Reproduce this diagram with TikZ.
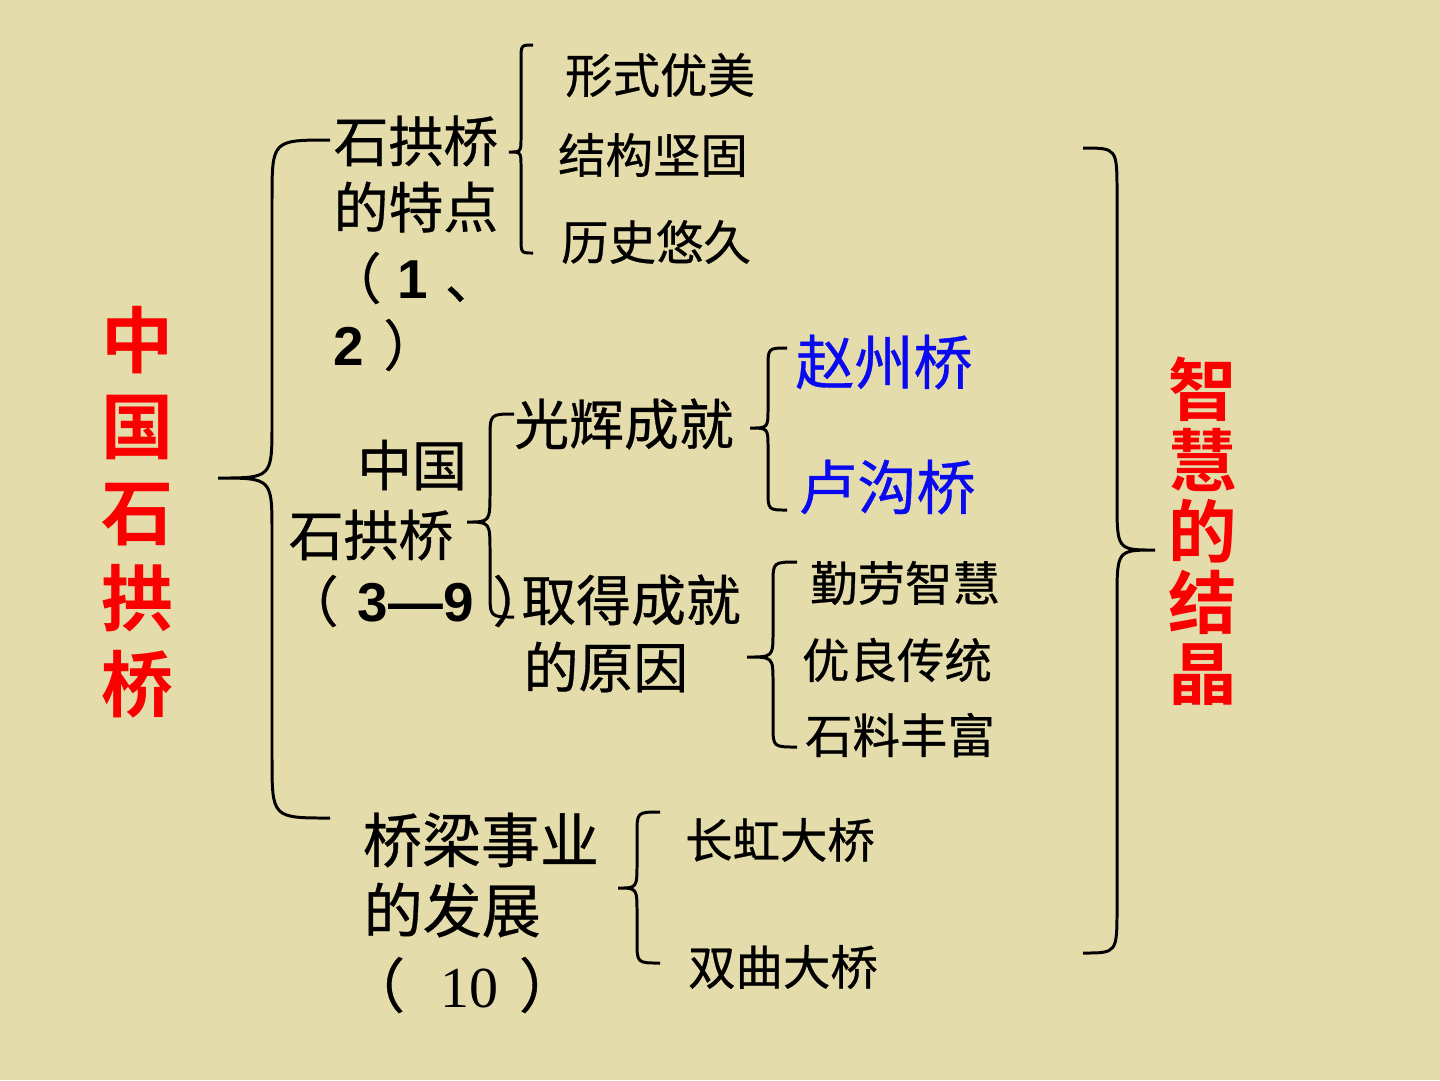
\documentclass[tikz,border=0pt]{standalone}
\usepackage{fontspec}
\setmainfont{Liberation Sans}
\newfontfamily\cjk{Noto Sans CJK SC}[FakeBold=0.6]
\newfontfamily\cjkb{Noto Sans CJK SC Bold}
\newfontfamily\tms{Liberation Serif}
\newfontfamily\arb{Liberation Sans Bold}
\definecolor{bgc}{RGB}{229,220,171}
\definecolor{redc}{RGB}{250,0,0}
\definecolor{bluec}{RGB}{10,10,240}
\newcommand\fs[2]{\fontsize{#1}{#2}\selectfont}
% brace: end-x, top-y, line-x, tip-x, tip-y, bottom-y, end radius, tip radius
\newcommand\mybrace[8]{%
  \draw[bracestyle] (#1,#2) .. controls (#3,#2) .. (#3,#2+#7) -- (#3,#5-#8)
    .. controls (#3,#5) .. (#4,#5) .. controls (#3,#5) .. (#3,#5+#8)
    -- (#3,#6-#7) .. controls (#3,#6) .. (#1,#6);}
\begin{document}
\begin{tikzpicture}[x=0.1mm,y=-0.1mm,
  bracestyle/.style={line width=0.85pt, black},
  txt/.style={inner sep=0pt, font=\cjk},
  big/.style={txt, font=\cjk\fs{15.6}{18}},
  small/.style={txt, font=\cjk\fs{13.5}{16}},
  bluet/.style={txt, font=\cjk\fs{16.8}{19}, text=bluec},
  vred/.style={txt, align=center, text=redc}]
\fill[bgc] (0,0) rectangle (1440,1080);
\useasboundingbox (0,0) rectangle (1440,1080);

% left title
\node[vred, font=\cjkb\fs{20.5}{24.5}] (title) at (138,512) {中\\国\\石\\拱\\桥};
% right title
\node[vred, font=\cjkb\fs{19.5}{20.2}] (result) at (1203,531) {智\\慧\\的\\结\\晶};

% section 1
\node[big, anchor=west] (s1a) at (333,141) {石拱桥};
\node[big, anchor=west] (s1b) at (333,207) {的特点};
\node[big, anchor=west] (s1c) at (326,278) {（\hspace{0.3em}{\arb 1}\hspace{0.3em}、};
\node[big, anchor=west] (s1d) at (333,345) {{\arb 2}\hspace{0.35em}）};
\node[small] (f1) at (660,75) {形式优美};
\node[small] (f2) at (653,155) {结构坚固};
\node[small] (f3) at (656,242) {历史悠久};

% section 2
\node[big] (s2a) at (412,465) {中国};
\node[big] (s2b) at (371,535) {石拱桥};
\node[big, anchor=west] (s2c) at (283,601) {（\hspace{0.35em}{\arb 3—9}\hspace{0.35em}）\hspace{-0.6em}};
\node[big] (g1) at (624,424) {光辉成就};
\node[big] (g2a) at (631,600) {取得成就};
\node[big, anchor=west] (g2b) at (523,667) {的原因};
\node[bluet] (zz) at (884,362) {赵州桥};
\node[bluet] (lg) at (887,487) {卢沟桥};
\node[small] (r1) at (905,583) {勤劳智慧};
\node[small] (r2) at (897,660) {优良传统};
\node[small] (r3) at (900,735) {石料丰富};

% section 3
\node[txt, font=\cjk\fs{16.8}{19}] (s3a) at (481,840) {桥梁事业};
\node[txt, font=\cjk\fs{16.8}{19}, anchor=west] (s3b) at (363,910) {的发展};
\node[txt, font=\cjk\fs{16.8}{19}] (s3c) at (462,985) {（\hspace{0.35em}{\tms\fs{16.5}{19} 10}\hspace{0.35em}）};
\node[small] (b1) at (780,840) {长虹大桥};
\node[small] (b2) at (783,967) {双曲大桥};

% braces
\mybrace{330}{140}{272}{218}{478}{818}{60}{55}
\mybrace{533}{45}{521}{509}{152}{253}{15}{15}
\mybrace{514}{414}{490}{467}{522}{617}{25}{30}
\mybrace{787}{348}{768}{750}{428}{510}{20}{20}
\mybrace{797}{562}{773}{747}{657}{747}{22}{25}
\mybrace{660}{812}{637}{618}{888}{963}{22}{25}
\mybrace{1083}{148}{1117}{1155}{550}{953}{45}{50}
\end{tikzpicture}
\end{document}
